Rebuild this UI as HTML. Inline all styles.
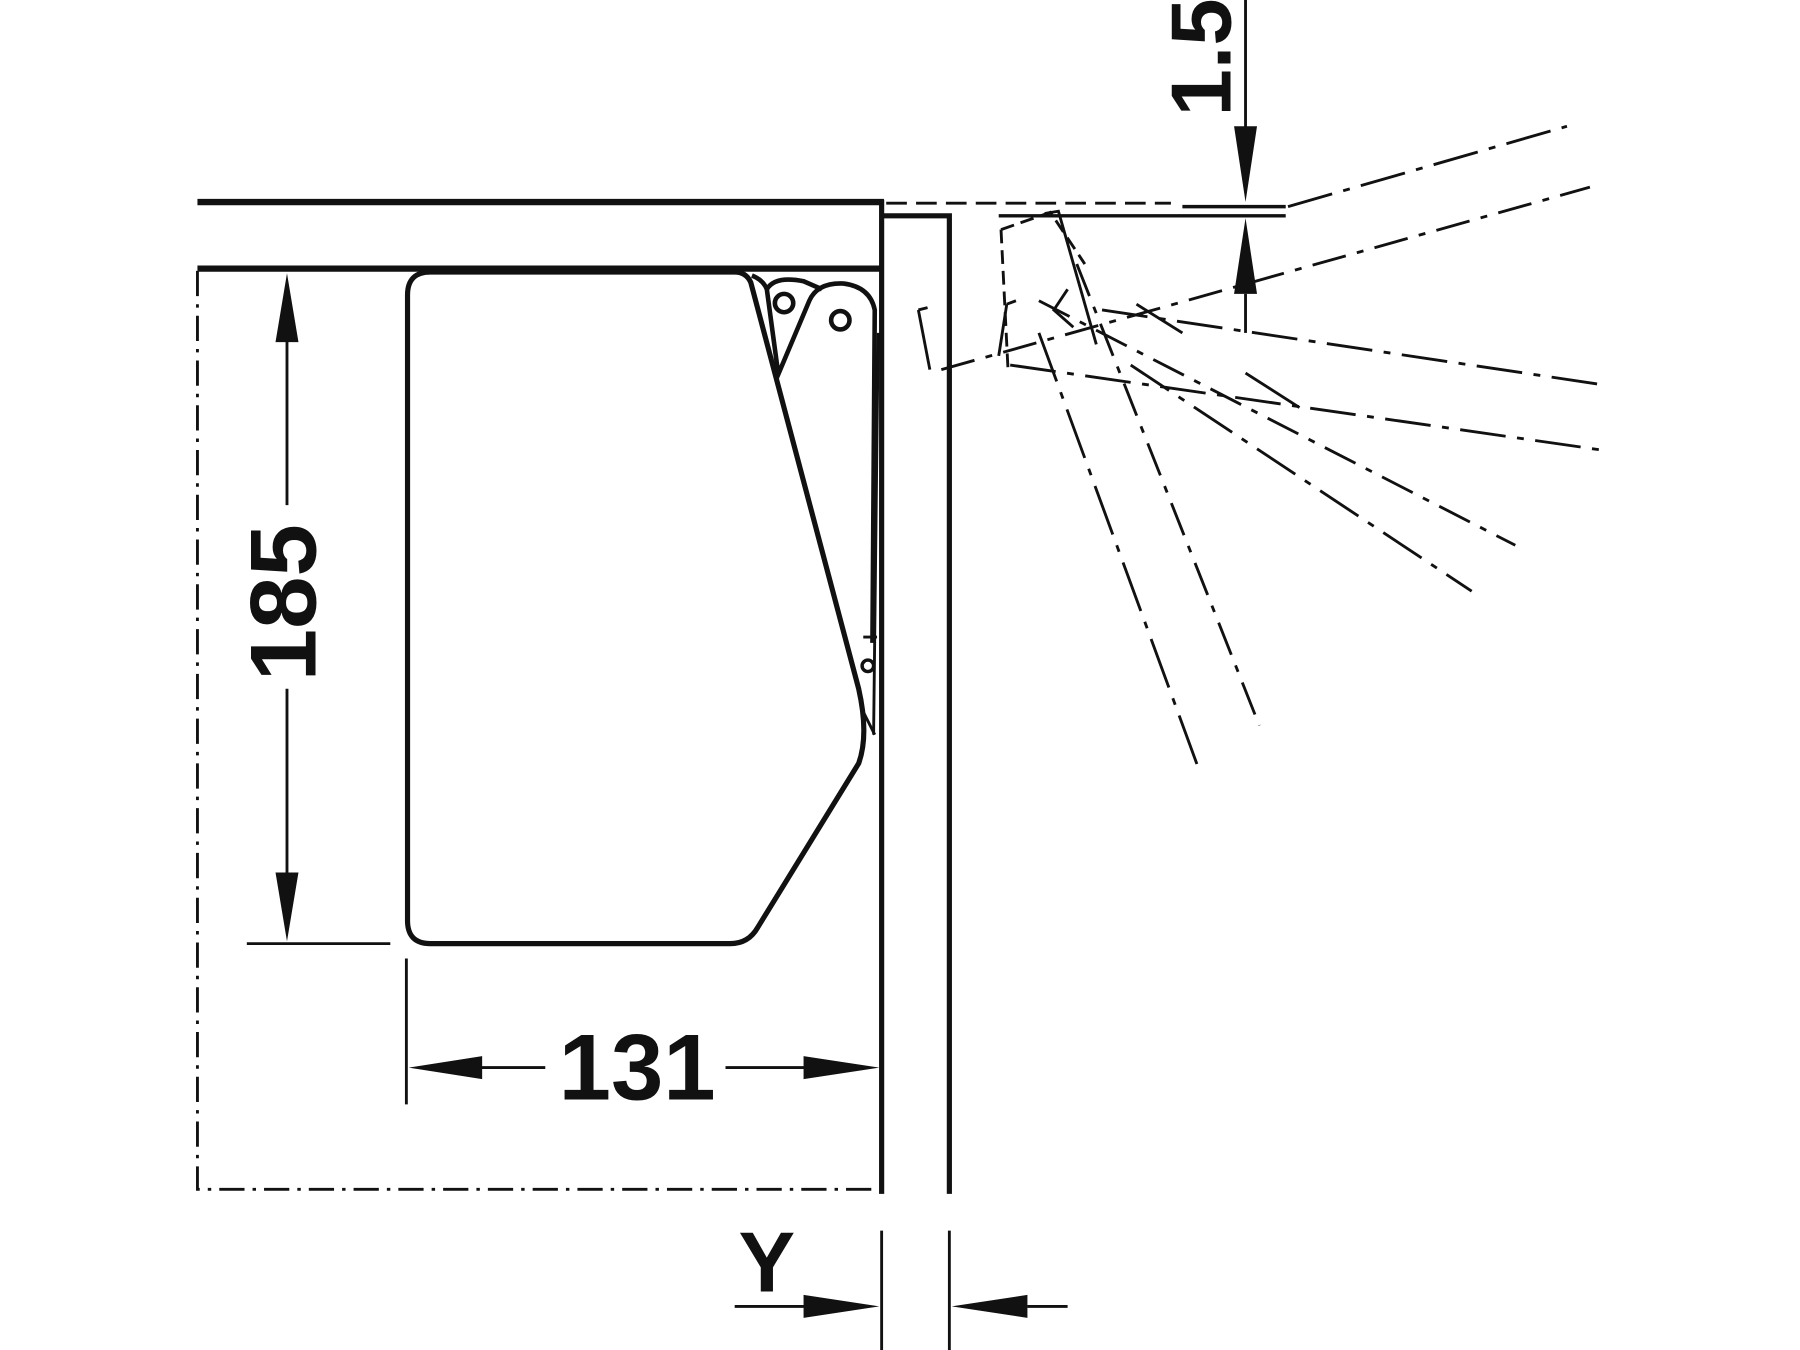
<!DOCTYPE html>
<html><head><meta charset="utf-8"><style>html,body{margin:0;padding:0;background:#fff}svg{display:block}</style></head>
<body>
<svg width="1800" height="1350" viewBox="0 0 1568 1176" xmlns="http://www.w3.org/2000/svg" fill="none" stroke="#111" stroke-linecap="butt">
<!-- top board -->
<line x1="172" y1="176" x2="770" y2="176" stroke-width="5.5"/>
<line x1="172" y1="234" x2="770" y2="234" stroke-width="5.5"/>
<line x1="768" y1="174" x2="768" y2="1040" stroke-width="4.5"/>
<polyline points="770,188 827,188 827,1040" stroke-width="4.5"/>
<!-- dash-dot cabinet outline -->
<path d="M172 236 L172 1036 L762 1036" stroke-width="2.5" stroke-dasharray="22,7,3,7"/>
<!-- drawer box -->
<path d="M375 237 L640 237 Q650 237 654 246 L748 600 Q757 640 748 665 L660 808 Q652 822 636 822 L375 822 Q355 822 355 802 L355 257 Q355 237 375 237 Z" stroke-width="4.5"/>
<!-- mechanism -->
<path d="M655 240 Q665 244 668 252 L678 326 L705 262 Q712 246 735 247 Q758 250 762 270 L760 560" stroke-width="4"/>
<path d="M668 252 Q675 240 700 245 L716 252" stroke-width="4"/>
<circle cx="683" cy="264" r="8" stroke-width="4"/>
<circle cx="732" cy="279" r="8" stroke-width="4"/>
<line x1="765" y1="290" x2="761" y2="640" stroke-width="2.5"/>
<circle cx="756" cy="580" r="5" stroke-width="3"/>
<path d="M752 555 L764 555 M752 620 L762 640" stroke-width="2.5"/>
<!-- 185 dimension -->
<line x1="250" y1="260" x2="250" y2="440" stroke-width="2.5"/>
<line x1="250" y1="600" x2="250" y2="795" stroke-width="2.5"/>
<polygon points="250,238 240,298 260,298" fill="#111" stroke="none"/>
<polygon points="250,820 240,760 260,760" fill="#111" stroke="none"/>
<line x1="215" y1="822" x2="340" y2="822" stroke-width="2.5"/>
<text x="0" y="0" transform="translate(275,525) rotate(-90)" text-anchor="middle" font-family="Liberation Sans, sans-serif" font-weight="bold" font-size="82" fill="#111" stroke="none">185</text>
<!-- 131 dimension -->
<line x1="354" y1="835" x2="354" y2="962" stroke-width="2.5"/>
<line x1="380" y1="930" x2="475" y2="930" stroke-width="2.5"/>
<line x1="632" y1="930" x2="745" y2="930" stroke-width="2.5"/>
<polygon points="356,930 420,920 420,940" fill="#111" stroke="none"/>
<polygon points="766,930 700,920 700,940" fill="#111" stroke="none"/>
<text x="555" y="958" text-anchor="middle" font-family="Liberation Sans, sans-serif" font-weight="bold" font-size="82" fill="#111" stroke="none">131</text>
<!-- Y dimension -->
<line x1="768" y1="1072" x2="768" y2="1176" stroke-width="2.5"/>
<line x1="827" y1="1072" x2="827" y2="1176" stroke-width="2.5"/>
<line x1="640" y1="1138" x2="710" y2="1138" stroke-width="2.5"/>
<polygon points="766,1138 700,1128 700,1148" fill="#111" stroke="none"/>
<line x1="895" y1="1138" x2="930" y2="1138" stroke-width="2.5"/>
<polygon points="829,1138 895,1128 895,1148" fill="#111" stroke="none"/>
<text x="668" y="1125" text-anchor="middle" font-family="Liberation Sans, sans-serif" font-weight="bold" font-size="74" fill="#111" stroke="none">Y</text>
<!-- 1.5 dimension -->
<line x1="1085" y1="0" x2="1085" y2="120" stroke-width="2.5"/>
<polygon points="1085,176 1075,110 1095,110" fill="#111" stroke="none"/>
<polygon points="1085,190 1075,256 1095,256" fill="#111" stroke="none"/>
<line x1="1085" y1="256" x2="1085" y2="290" stroke-width="2.5"/>
<line x1="1030" y1="180" x2="1120" y2="180" stroke-width="3"/>
<line x1="870" y1="188" x2="1120" y2="188" stroke-width="3"/>
<text x="0" y="0" transform="translate(1072,50) rotate(-90)" text-anchor="middle" font-family="Liberation Sans, sans-serif" font-weight="bold" font-size="74" fill="#111" stroke="none">1.5</text>
<!-- dashed open-position lines -->
<g stroke-width="2.5">
<line x1="772" y1="177" x2="1020" y2="177" stroke-dasharray="18,8"/>
<line x1="1122" y1="180" x2="1365" y2="110" stroke-dasharray="40,10,6,10"/>
<line x1="820" y1="322" x2="1385" y2="163" stroke-dasharray="30,10,6,10"/>
<line x1="880" y1="318" x2="1395" y2="392" stroke-dasharray="40,10,6,10"/>
<line x1="960" y1="270" x2="1395" y2="335" stroke-dasharray="40,10,6,10"/>
<line x1="905" y1="262" x2="1320" y2="475" stroke-dasharray="30,10,6,10"/>
<line x1="985" y1="318" x2="1282" y2="515" stroke-dasharray="40,10,6,10"/>
<line x1="938" y1="230" x2="1097" y2="632" stroke-dasharray="30,10,6,10"/>
<line x1="905" y1="290" x2="1045" y2="672" stroke-dasharray="45,10,6,10"/>
<line x1="1085" y1="325" x2="1132" y2="355" />
<polyline points="800,270 810,322" />
<polyline points="800,270 808,268" />
<polyline points="877,265 870,310" />
<polyline points="877,265 885,262" />
<polyline points="872,200 878,320" stroke-dasharray="12,6"/>
<polyline points="872,200 915,185 945,230" stroke-dasharray="12,6"/>
<polyline points="910,186 922,184 955,300" />
<polyline points="930,252 918,270 935,285" />
<line x1="990" y1="265" x2="1030" y2="290"/>
</g>
</svg>
</body></html>
